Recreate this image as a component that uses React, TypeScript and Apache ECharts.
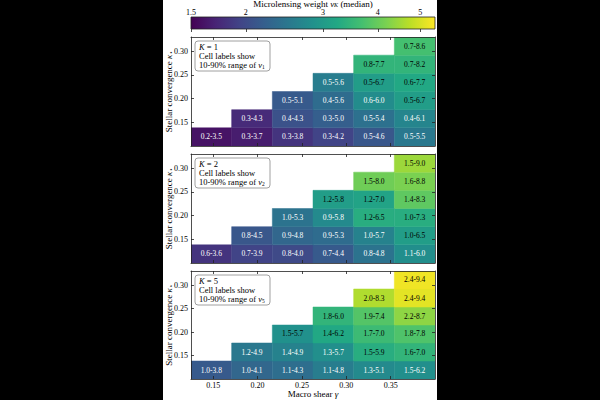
import React, { useEffect, useRef } from "react";
import * as echarts from "echarts";

// ---- data ----
const gammaEdges = [0.125, 0.17083, 0.21667, 0.2625, 0.30833, 0.35417, 0.4];
const kappaEdges = [0.1, 0.13833, 0.17667, 0.215, 0.25333, 0.29167, 0.33];
const gammaTicks = [0.15, 0.2, 0.25, 0.3, 0.35];
const kappaTicks = [0.15, 0.2, 0.25, 0.3];
const colorbarTicks = [1.5, 2, 3, 4, 5];
const colorMin = 1.5;
const colorMax = 5.4;
const kValues = ["1", "2", "5"];

// median v_K per gamma column, rows listed from lowest kappa upward
const medianK1 = [
  [1.6],
  [1.66, 1.75],
  [1.82, 2.07, 2.15],
  [1.94, 2.2, 2.35, 2.57],
  [2.12, 2.41, 2.77, 3.04, 3.45],
  [2.5, 2.67, 3.04, 3.24, 3.45, 3.68],
];
const medianK2 = [
  [1.82],
  [1.94, 2.12],
  [1.99, 2.29, 2.44],
  [2.15, 2.35, 2.74, 3.04],
  [2.44, 2.64, 3.32, 3.15, 4.07],
  [2.8, 3.04, 3.32, 3.92, 4.18, 4.46],
];
const medianK5 = [
  [2.15],
  [2.29, 2.5],
  [2.38, 2.64, 2.85],
  [2.57, 2.82, 3.24, 3.45],
  [2.74, 3.32, 3.58, 3.82, 4.63],
  [2.82, 3.45, 3.77, 4.34, 5.13, 5.26],
];
const rangeK1 = [
  ["0.2-3.5"],
  ["0.3-3.7", "0.3-4.3"],
  ["0.3-3.8", "0.4-4.3", "0.5-5.1"],
  ["0.3-4.2", "0.3-5.0", "0.4-5.6", "0.5-5.6"],
  ["0.5-4.6", "0.5-5.4", "0.6-6.0", "0.5-6.7", "0.8-7.7"],
  ["0.5-5.5", "0.4-6.1", "0.5-6.7", "0.6-7.7", "0.7-8.2", "0.7-8.6"],
];
const rangeK2 = [
  ["0.6-3.6"],
  ["0.7-3.9", "0.8-4.5"],
  ["0.8-4.0", "0.9-4.8", "1.0-5.3"],
  ["0.7-4.4", "0.9-5.3", "0.9-5.8", "1.2-5.8"],
  ["0.8-4.8", "1.0-5.7", "1.2-6.5", "1.2-7.0", "1.5-8.0"],
  ["1.1-6.0", "1.0-6.5", "1.0-7.3", "1.4-8.3", "1.6-8.8", "1.5-9.0"],
];
const rangeK5 = [
  ["1.0-3.8"],
  ["1.0-4.1", "1.2-4.9"],
  ["1.1-4.3", "1.4-4.9", "1.5-5.7"],
  ["1.1-4.8", "1.3-5.7", "1.4-6.2", "1.8-6.0"],
  ["1.3-5.1", "1.5-5.9", "1.7-7.0", "1.9-7.4", "2.0-8.3"],
  ["1.5-6.2", "1.6-7.0", "1.8-7.8", "2.2-8.7", "2.4-9.4", "2.4-9.4"],
];

const medians = [medianK1, medianK2, medianK5];
const ranges = [rangeK1, rangeK2, rangeK5];

const viridis = [
  "#440154", "#482475", "#414487", "#355f8d", "#2a788e", "#21918c",
  "#22a884", "#44bf70", "#7ad151", "#bddf26", "#fde725",
];

// ---- layout ----
const FONT = "Liberation Serif";
const GL = 28;
const GW = 244;
const panelTops = [37, 154, 271];
const panelHeights = [109, 109, 108];
const CB_TOP = 17;
const CB_H = 12;

const lnMin = Math.log(colorMin);
const lnMax = Math.log(colorMax);

export default function App() {
  const ref = useRef<HTMLDivElement>(null);

  useEffect(() => {
    if (!ref.current) return;
    const chart = echarts.init(ref.current, null, { renderer: "svg" });

    const grids: any[] = [];
    const xAxes: any[] = [];
    const yAxes: any[] = [];
    const series: any[] = [];
    const graphics: any[] = [];

    const axisLine = { show: true, onZero: false, lineStyle: { color: "#222", width: 0.8 } };
    const labelStyle = { fontFamily: FONT, fontSize: 8, color: "#000" };
    const tickLine = { color: "#222", width: 0.8 };
    const richMath = {
      i: { fontStyle: "italic", fontFamily: FONT, fontSize: 9, fill: "#000" },
      s: { fontFamily: FONT, fontSize: 6, verticalAlign: "bottom", fill: "#000" },
      si: { fontStyle: "italic", fontFamily: FONT, fontSize: 6, verticalAlign: "bottom", fill: "#000" },
      st: { fontFamily: "DejaVu Sans", fontSize: 6, verticalAlign: "bottom", fill: "#000" },
    };

    panelTops.forEach((top, i) => {
      const PH = panelHeights[i];
      grids.push({ left: GL, width: GW, top, height: PH, containLabel: false, outerBoundsMode: "none" });
      // bottom x
      xAxes.push({
        type: "value", gridIndex: i, min: 0.125, max: 0.4, position: "bottom", z: 5,
        axisLine, splitLine: { show: false },
        axisTick: { show: true, inside: true, length: 3, customValues: gammaTicks, lineStyle: tickLine },
        axisLabel: { show: i === 2, customValues: gammaTicks, margin: 2, formatter: (v: number) => v.toFixed(2), ...labelStyle },
      });
      // top x
      xAxes.push({
        type: "value", gridIndex: i, min: 0.125, max: 0.4, position: "top", z: 5,
        axisLine, splitLine: { show: false },
        axisTick: { show: true, inside: true, length: 3, customValues: gammaTicks, lineStyle: tickLine },
        axisLabel: { show: false },
      });
      // left y
      yAxes.push({
        type: "value", gridIndex: i, min: 0.1, max: 0.33, position: "left", z: 5,
        axisLine, splitLine: { show: false },
        axisTick: { show: true, inside: true, length: 3, customValues: kappaTicks, lineStyle: tickLine },
        axisLabel: { customValues: kappaTicks, margin: 3, formatter: (v: number) => v.toFixed(2), ...labelStyle },
      });
      // right y
      yAxes.push({
        type: "value", gridIndex: i, min: 0.1, max: 0.33, position: "right", z: 5,
        axisLine, splitLine: { show: false },
        axisTick: { show: true, inside: true, length: 3, customValues: kappaTicks, lineStyle: tickLine },
        axisLabel: { show: false },
      });

      const data: any[] = [];
      const labels: string[] = [];
      medians[i].forEach((col, c) => {
        col.forEach((m, r) => {
          data.push([c, r, Math.log(m)]);
          labels.push(ranges[i][c][r]);
        });
      });

      series.push({
        type: "custom",
        xAxisIndex: i * 2,
        yAxisIndex: i * 2,
        clip: true,
        data,
        renderItem: (params: any, api: any) => {
          const c = api.value(0);
          const r = api.value(1);
          const lv = api.value(2);
          const p0 = api.coord([gammaEdges[c], kappaEdges[r + 1]]);
          const p1 = api.coord([gammaEdges[c + 1], kappaEdges[r]]);
          const color = api.visual("color");
          const t = (lv - lnMin) / (lnMax - lnMin);
          return {
            type: "group",
            children: [
              {
                type: "rect",
                shape: { x: p0[0], y: p0[1], width: p1[0] - p0[0], height: p1[1] - p0[1] },
                style: { fill: color, stroke: color, lineWidth: 0.5 },
              },
              {
                type: "text",
                style: {
                  text: labels[params.dataIndex],
                  x: (p0[0] + p1[0]) / 2,
                  y: (p0[1] + p1[1]) / 2,
                  align: "center",
                  verticalAlign: "middle",
                  fill: t > 0.5 ? "#000" : "#fff",
                  fontFamily: FONT,
                  fontSize: 7.5,
                },
              },
            ],
          };
        },
      });

      // y axis title
      graphics.push({
        type: "text", z: 50,
        x: 5.5, y: top + PH / 2, rotation: Math.PI / 2,
        style: {
          text: "Stellar convergence {i|κ}{st|⋆}",
          fill: "#000", fontFamily: FONT, fontSize: 9,
          align: "center", verticalAlign: "middle", rich: richMath,
        },
      });

      // annotation box
      const bx = GL + 4;
      const by = top + 4;
      graphics.push({
        type: "rect", z: 100,
        shape: { x: bx, y: by, width: 75, height: 30, r: 3 },
        style: { fill: "#fff", stroke: "#888", lineWidth: 0.8 },
      });
      const lines = [
        `{i|K} = ${kValues[i]}`,
        "Cell labels show",
        `10-90% range of {i|v}{s|${kValues[i]}}`,
      ];
      lines.forEach((txt, li) => {
        graphics.push({
          type: "text", z: 101,
          x: bx + 4, y: by + 5.5 + li * 9.3,
          style: {
            text: txt, fill: "#000", fontFamily: FONT, fontSize: 8.5,
            verticalAlign: "middle",
            rich: {
              i: { fontStyle: "italic", fontFamily: FONT, fontSize: 8.5, fill: "#000" },
              s: { fontFamily: FONT, fontSize: 5.5, verticalAlign: "bottom", fill: "#000" },
            },
          },
        });
      });
    });

    // x axis title
    graphics.push({
      type: "text", z: 50,
      x: GL + GW / 2, y: 394,
      style: {
        text: "Macro shear {i|γ}", fill: "#000", fontFamily: FONT, fontSize: 9,
        align: "center", verticalAlign: "middle", rich: richMath,
      },
    });
    // colorbar title
    graphics.push({
      type: "text", z: 50,
      x: GL + GW / 2, y: 3.8,
      style: {
        text: "Microlensing weight {i|v}{si|K} (median)", fill: "#000", fontFamily: FONT, fontSize: 9,
        align: "center", verticalAlign: "middle", rich: richMath,
      },
    });

    // colorbar
    grids.push({ left: GL, width: GW, top: CB_TOP, height: CB_H, containLabel: false, outerBoundsMode: "none" });
    const cbTickVals = colorbarTicks.map((v) => Math.log(v));
    xAxes.push({
      type: "value", gridIndex: 3, min: lnMin, max: lnMax, position: "top", z: 5,
      axisLine: { show: false }, splitLine: { show: false },
      axisTick: { show: true, inside: true, length: 3, customValues: cbTickVals, lineStyle: tickLine },
      axisLabel: {
        customValues: cbTickVals, margin: 1, ...labelStyle,
        formatter: (v: number) => String(parseFloat(Math.exp(v).toFixed(1))),
      },
    });
    yAxes.push({ type: "value", gridIndex: 3, min: 0, max: 1, show: false });
    series.push({
      type: "custom",
      xAxisIndex: 6,
      yAxisIndex: 6,
      data: [[0]],
      renderItem: (_p: any, api: any) => {
        const p0 = api.coord([lnMin, 1]);
        const p1 = api.coord([lnMax, 0]);
        return {
          type: "rect",
          shape: { x: p0[0], y: p0[1], width: p1[0] - p0[0], height: p1[1] - p0[1] },
          style: {
            fill: new echarts.graphic.LinearGradient(
              0, 0, 1, 0,
              viridis.map((c, k) => ({ offset: k / (viridis.length - 1), color: c }))
            ),
            stroke: "#222",
            lineWidth: 0.8,
          },
        };
      },
    });

    chart.setOption({
      animation: false,
      backgroundColor: "#fff",
      grid: grids,
      xAxis: xAxes,
      yAxis: yAxes,
      visualMap: {
        type: "continuous",
        show: false,
        min: lnMin,
        max: lnMax,
        dimension: 2,
        seriesIndex: [0, 1, 2],
        inRange: { color: viridis },
      },
      series,
      graphic: graphics,
    });

    return () => chart.dispose();
  }, []);

  return (
    <div style={{ position: "fixed", left: 0, top: 0, width: 600, height: 400, background: "#000" }}>
      <div ref={ref} style={{ position: "absolute", left: 163, top: 0, width: 274, height: 400, background: "#fff" }} />
    </div>
  );
}
